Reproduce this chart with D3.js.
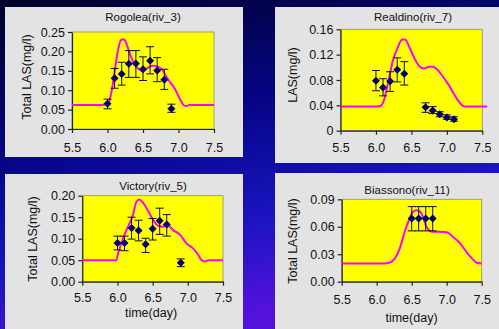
<!DOCTYPE html>
<html><head><meta charset="utf-8">
<script src="https://cdn.jsdelivr.net/npm/d3@7"></script>
<style>
html,body{margin:0;padding:0;overflow:hidden;}
svg{display:block;}
text{font-family:"Liberation Sans",Arial,sans-serif;fill:#111;}
</style></head>
<body>
<svg id="chart" width="499" height="329"></svg>
<script>
// ---------- DATA ----------
const xTicks = [5.5, 6.0, 6.5, 7.0, 7.5];

// Rogolea (riv_3)
const rogoleaObsDay = [6.0, 6.1, 6.2, 6.3, 6.4, 6.5, 6.6, 6.7, 6.8, 6.9];
const rogoleaObs    = [0.065, 0.131, 0.142, 0.168, 0.169, 0.154, 0.176, 0.151, 0.127, 0.052];
const rogoleaErrHi  = [0.077, 0.156, 0.172, 0.202, 0.202, 0.186, 0.212, 0.184, 0.154, 0.064];
const rogoleaErrLo  = [0.052, 0.105, 0.113, 0.133, 0.133, 0.125, 0.142, 0.122, 0.102, 0.043];
const rogoleaModelDay = [5.5, 5.9, 6.0, 6.03, 6.07, 6.11, 6.15, 6.19, 6.22, 6.25, 6.28, 6.34, 6.43, 6.5, 6.57, 6.63, 6.68, 6.76, 6.85, 6.95, 7.02, 7.07, 7.11, 7.15, 7.2, 7.5];
const rogoleaModel    = [0.062, 0.062, 0.063, 0.075, 0.11, 0.16, 0.205, 0.229, 0.231, 0.227, 0.213, 0.182, 0.156, 0.150, 0.158, 0.163, 0.162, 0.155, 0.129, 0.103, 0.077, 0.062, 0.059, 0.062, 0.062, 0.062];
const rogoleaYTicks = [0, 0.05, 0.10, 0.15, 0.20, 0.25];
const rogoleaYLabels = ["0.00", "0.05", "0.10", "0.15", "0.20", "0.25"];

// Realdino (riv_7)
const realdinoObsDay = [6.0, 6.1, 6.2, 6.3, 6.4, 6.7, 6.8, 6.9, 7.0, 7.1];
const realdinoObs    = [0.079, 0.068, 0.078, 0.096, 0.090, 0.037, 0.032, 0.026, 0.021, 0.018];
const realdinoErrHi  = [0.095, 0.082, 0.093, 0.115, 0.109, 0.044, 0.038, 0.030, 0.025, 0.022];
const realdinoErrLo  = [0.063, 0.055, 0.062, 0.077, 0.072, 0.029, 0.027, 0.022, 0.018, 0.015];
const realdinoModelDay = [5.5, 6.0, 6.06, 6.1, 6.17, 6.24, 6.31, 6.37, 6.41, 6.47, 6.54, 6.61, 6.68, 6.75, 6.8, 6.87, 6.94, 7.01, 7.08, 7.15, 7.23, 7.28, 7.57];
const realdinoModel    = [0.038, 0.038, 0.039, 0.044, 0.075, 0.111, 0.132, 0.144, 0.144, 0.132, 0.115, 0.102, 0.098, 0.101, 0.101, 0.096, 0.086, 0.075, 0.062, 0.049, 0.039, 0.038, 0.038];
const realdinoYTicks = [0, 0.04, 0.08, 0.12, 0.16];
const realdinoYLabels = ["0", "0.04", "0.08", "0.12", "0.16"];

// Victory (riv_5)
const victoryObsDay = [6.0, 6.1, 6.2, 6.3, 6.4, 6.5, 6.6, 6.7, 6.9];
const victoryObs    = [0.090, 0.090, 0.125, 0.119, 0.087, 0.123, 0.142, 0.133, 0.044];
const victoryErrHi  = [0.106, 0.106, 0.150, 0.143, 0.101, 0.147, 0.171, 0.156, 0.053];
const victoryErrLo  = [0.074, 0.072, 0.099, 0.095, 0.068, 0.097, 0.110, 0.106, 0.035];
const victoryModelDay = [5.5, 5.95, 5.98, 6.01, 6.08, 6.15, 6.22, 6.27, 6.31, 6.37, 6.44, 6.51, 6.58, 6.65, 6.72, 6.79, 6.89, 6.98, 7.07, 7.15, 7.19, 7.24, 7.29, 7.5];
const victoryModel    = [0.050, 0.050, 0.049, 0.066, 0.101, 0.128, 0.155, 0.186, 0.191, 0.182, 0.163, 0.143, 0.130, 0.128, 0.130, 0.120, 0.109, 0.089, 0.078, 0.062, 0.051, 0.047, 0.050, 0.050];
const victoryYTicks = [0, 0.05, 0.10, 0.15, 0.20];
const victoryYLabels = ["0.00", "0.05", "0.10", "0.15", "0.20"];

// Biassono (riv_11)
const biassonoObsDay = [6.5, 6.6, 6.7, 6.8];
const biassonoObs    = [0.069, 0.069, 0.069, 0.069];
const biassonoErrHi  = [0.082, 0.082, 0.082, 0.082];
const biassonoErrLo  = [0.0555, 0.0555, 0.0555, 0.0555];
const biassonoModelDay = [5.5, 6.1, 6.19, 6.26, 6.33, 6.40, 6.47, 6.52, 6.57, 6.62, 6.67, 6.71, 6.79, 6.90, 7.0, 7.09, 7.19, 7.28, 7.36, 7.43, 7.5];
const biassonoModel    = [0.020, 0.020, 0.021, 0.0255, 0.0365, 0.0546, 0.069, 0.0765, 0.078, 0.0765, 0.069, 0.060, 0.0546, 0.0546, 0.054, 0.049, 0.042, 0.0328, 0.0255, 0.0207, 0.020];
const biassonoYTicks = [0, 0.03, 0.06, 0.09];
const biassonoYLabels = ["0.00", "0.03", "0.06", "0.09"];

const titles = ["Rogolea(riv_3)", "Realdino(riv_7)", "Victory(riv_5)", "Biassono(riv_11)"];
const yTitles = ["Total LAS(mg/l)", "LAS(mg/l)", "Total LAS(mg/l)", "Total LAS(mg/l)"];
const xTitle = "time(day)";

// ---------- LAYOUT ----------
const svg = d3.select("#chart");
const defs = svg.append("defs");
const grad = defs.append("linearGradient").attr("id", "bg")
  .attr("x1", "0").attr("y1", "0").attr("x2", "0.35").attr("y2", "1");
grad.append("stop").attr("offset", "0").attr("stop-color", "#000026");
grad.append("stop").attr("offset", "0.45").attr("stop-color", "#06068a");
grad.append("stop").attr("offset", "0.75").attr("stop-color", "#1a14c0");
grad.append("stop").attr("offset", "1").attr("stop-color", "#5212dc");
svg.append("rect").attr("width", 499).attr("height", 329).attr("fill", "url(#bg)");

const panels = [
  { box:[5,7,238,150], plot:[72,214,32,129], yMax:0.25, title:[143,21], yt:[27,77], xtb:152, xl:null,
    obsDay:rogoleaObsDay, obs:rogoleaObs, hi:rogoleaErrHi, lo:rogoleaErrLo, mDay:rogoleaModelDay, m:rogoleaModel, yTicks:rogoleaYTicks, yLabels:rogoleaYLabels },
  { box:[275,7,224,156], plot:[340.5,482.3,29.3,130.7], yMax:0.16, title:[413,21], yt:[293,75], xtb:152, xl:null,
    obsDay:realdinoObsDay, obs:realdinoObs, hi:realdinoErrHi, lo:realdinoErrLo, mDay:realdinoModelDay, m:realdinoModel, yTicks:realdinoYTicks, yLabels:realdinoYLabels },
  { box:[5,174,238,155], plot:[82.3,223,195.7,281.7], yMax:0.20, title:[153,190], yt:[33,239], xtb:302.5, xl:[151,316.5],
    obsDay:victoryObsDay, obs:victoryObs, hi:victoryErrHi, lo:victoryErrLo, mDay:victoryModelDay, m:victoryModel, yTicks:victoryYTicks, yLabels:victoryYLabels },
  { box:[275,173,224,156], plot:[341.7,481.7,199.3,281.7], yMax:0.09, title:[407,194], yt:[293,241], xtb:304.5, xl:[411.5,321.5],
    obsDay:biassonoObsDay, obs:biassonoObs, hi:biassonoErrHi, lo:biassonoErrLo, mDay:biassonoModelDay, m:biassonoModel, yTicks:biassonoYTicks, yLabels:biassonoYLabels }
];

panels.forEach((p, i) => {
  const g = svg.append("g");
  g.append("rect").attr("x", p.box[0]).attr("y", p.box[1]).attr("width", p.box[2]).attr("height", p.box[3]).attr("fill", "#e3e3e3");
  const [L, R, T, B] = p.plot;
  const x = d3.scaleLinear().domain([5.5, 7.5]).range([L, R]);
  const y = d3.scaleLinear().domain([0, p.yMax]).range([B, T]);

  g.append("rect").attr("x", L).attr("y", T).attr("width", R - L).attr("height", B - T)
    .attr("fill", "#ffff00").attr("stroke", "#8a8a8a").attr("stroke-width", 0.8);

  const xAxis = g.append("g").attr("transform", `translate(0,${B})`)
    .call(d3.axisBottom(x).tickValues(xTicks).tickFormat(d3.format(".1f")).tickSize(4).tickSizeOuter(0));
  const yAxis = g.append("g").attr("transform", `translate(${L},0)`)
    .call(d3.axisLeft(y).tickValues(p.yTicks).tickFormat((d, k) => p.yLabels[k]).tickSize(4).tickSizeOuter(0));
  [xAxis, yAxis].forEach(a => {
    a.select(".domain").attr("stroke", "#222").attr("stroke-width", 1.2);
    a.selectAll(".tick line").attr("stroke", "#222").attr("stroke-width", 1.2);
    a.selectAll("text").style("font-family", "'Liberation Sans',Arial,sans-serif").style("font-size", "12.5px").attr("fill", "#111");
  });
  xAxis.selectAll("text").attr("dy", null).attr("y", p.xtb - B);
  yAxis.selectAll("text").attr("x", -7);

  // model curve
  const line = d3.line().x(d => x(d[0])).y(d => y(d[1])).curve(d3.curveMonotoneX);
  g.append("path").datum(p.mDay.map((d, k) => [d, p.m[k]]))
    .attr("d", line).attr("fill", "none").attr("stroke", "#ff00ff").attr("stroke-width", 2);

  // error bars
  const obs = p.obsDay.map((d, k) => ({ d, v: p.obs[k], hi: p.hi[k], lo: p.lo[k] }));
  const eb = g.append("g").attr("stroke", "#111").attr("stroke-width", 1);
  obs.forEach(o => {
    eb.append("line").attr("x1", x(o.d)).attr("x2", x(o.d)).attr("y1", y(o.hi)).attr("y2", y(o.lo));
    eb.append("line").attr("x1", x(o.d) - 4).attr("x2", x(o.d) + 4).attr("y1", y(o.hi)).attr("y2", y(o.hi));
    eb.append("line").attr("x1", x(o.d) - 4).attr("x2", x(o.d) + 4).attr("y1", y(o.lo)).attr("y2", y(o.lo));
  });
  // markers (diamonds)
  g.selectAll(".mk").data(obs).enter().append("path")
    .attr("d", o => { const cx = x(o.d), cy = y(o.v), r = 4; return `M${cx},${cy - r}L${cx + r},${cy}L${cx},${cy + r}L${cx - r},${cy}Z`; })
    .attr("fill", "#00006e");

  g.append("text").attr("x", p.title[0]).attr("y", p.title[1]).attr("text-anchor", "middle")
    .style("font-size", "11.5px").text(titles[i]);
  g.append("text").attr("transform", `translate(${p.yt[0]},${p.yt[1]}) rotate(-90)`)
    .attr("text-anchor", "middle").attr("dy", "0.35em").style("font-size", "12.5px").text(yTitles[i]);
  if (p.xl) {
    g.append("text").attr("x", p.xl[0]).attr("y", p.xl[1]).attr("text-anchor", "middle")
      .style("font-size", "12.5px").text(xTitle);
  }
});
</script>
</body></html>
